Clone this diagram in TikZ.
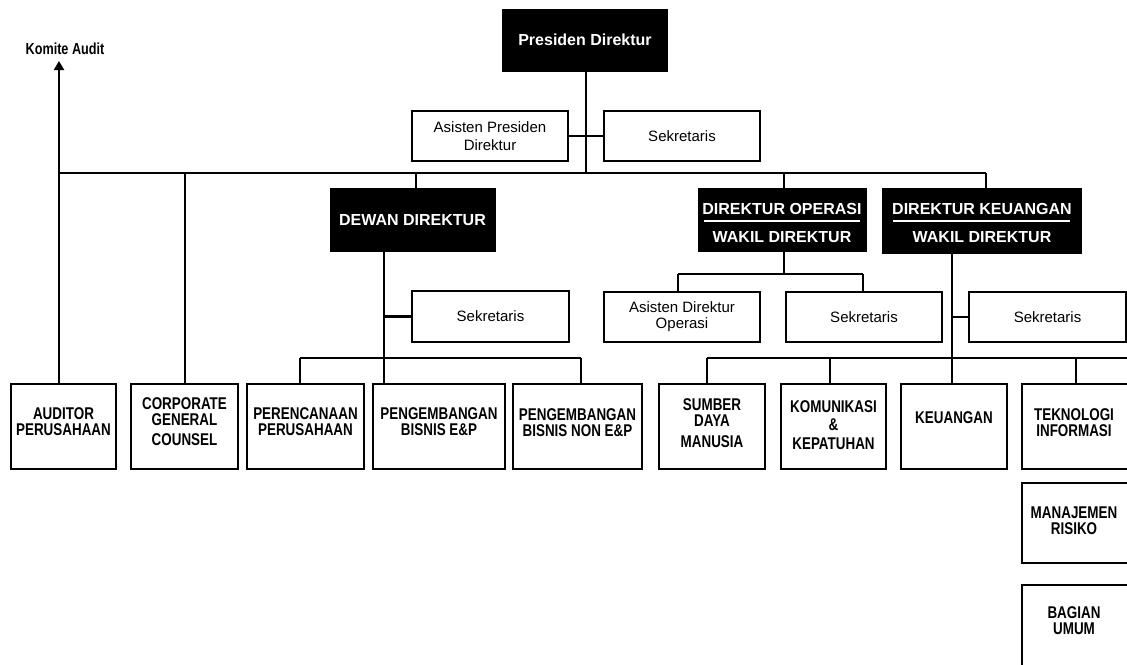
\documentclass[tikz,border=0pt]{standalone}
\usepackage{fontspec}
\setmainfont{Liberation Sans}
\newfontfamily\narrowf[FakeStretch=0.79]{Liberation Sans}
\usetikzlibrary{arrows.meta}
\tikzset{
  blackbox/.style={fill=black,draw=black,inner sep=0pt},
  wtext/.style={text=white,font=\bfseries\fontsize{16}{18}\selectfont,inner sep=0pt},
  secbox/.style={draw=black,line width=2pt,inner sep=0pt,align=center,font=\fontsize{15}{18}\selectfont},
  unitbox/.style={draw=black,line width=2.6pt,inner sep=0pt,minimum height=85pt},
  utext/.style={font=\narrowf\bfseries\fontsize{17}{16}\selectfont,align=center,inner sep=0pt},
  conn/.style={line width=2.2pt,draw=black},
  wrule/.style={draw=white,line width=2pt}
}
\begin{document}
\begin{tikzpicture}[x=1pt,y=-1pt]
\useasboundingbox (0,0) rectangle (1127,664);
% top
\node[blackbox,minimum width=165pt,minimum height=62pt] (pd) at (585,40) {};
\node[wtext] (pdt) at (585,40) {Presiden Direktur};
\node[secbox,minimum width=156pt,minimum height=50pt] (apd) at (490,136) {Asisten Presiden\\Direktur};
\node[secbox,minimum width=156pt,minimum height=50pt] (sek1) at (682,136) {Sekretaris};
% directors
\node[blackbox,minimum width=165pt,minimum height=63pt] (dewan) at (412.5,219.5) {};
\node[wtext] (dewant) at (412.5,220) {DEWAN DIREKTUR};
\node[blackbox,minimum width=168pt,minimum height=63pt] (dop) at (782,219.5) {};
\node[wtext] (dop1) at (782,209) {DIREKTUR OPERASI};
\node[wtext] (dop2) at (782,237) {WAKIL DIREKTUR};
\draw[wrule] (704,221) -- (860,221);
\node[blackbox,minimum width=199pt,minimum height=65pt] (dkeu) at (981.5,220.5) {};
\node[wtext] (dkeu1) at (982,209) {DIREKTUR KEUANGAN};
\node[wtext] (dkeu2) at (982,237) {WAKIL DIREKTUR};
\draw[wrule] (893,221) -- (1070,221);
% secretaries
\node[secbox,minimum width=157pt,minimum height=51pt] (sek2) at (490.5,316.5) {Sekretaris};
\node[secbox,minimum width=156pt,minimum height=50pt,font=\fontsize{15}{16}\selectfont] (ado) at (682,317) {Asisten Direktur\\Operasi};
\node[secbox,minimum width=156pt,minimum height=50pt] (sek3) at (864,317) {Sekretaris};
\node[secbox,minimum width=157pt,minimum height=50pt] (sek4) at (1047.5,317) {Sekretaris};
% units
\node[unitbox,minimum width=105pt] (aud) at (63.5,426.5) {};
\node[utext] (audt) at (63.5,422) {AUDITOR\\PERUSAHAAN};
\node[unitbox,minimum width=107pt] (cgc) at (184.5,426.5) {};
\node[utext] (cgct) at (184.5,421.5) {CORPORATE\\GENERAL\\[4pt]COUNSEL};
\node[unitbox,minimum width=117pt] (per) at (305.5,426.5) {};
\node[utext] (pert) at (305.5,422) {PERENCANAAN\\PERUSAHAAN};
\node[unitbox,minimum width=132pt] (pe) at (439,426.5) {};
\node[utext] (pet) at (439,422) {PENGEMBANGAN\\BISNIS E\&P};
\node[unitbox,minimum width=129pt] (pne) at (577.5,426.5) {};
\node[utext] (pnet) at (577.5,422.5) {PENGEMBANGAN\\BISNIS NON E\&P};
\node[unitbox,minimum width=106pt] (sdm) at (712,426.5) {};
\node[utext] (sdmt) at (712,423.5) {SUMBER\\DAYA\\[5pt]MANUSIA};
\node[unitbox,minimum width=105pt] (kom) at (833.5,426.5) {};
\node[utext] (komt) at (833.5,425) {KOMUNIKASI\\[2.5pt]\&\\[3pt]KEPATUHAN};
\node[unitbox,minimum width=106pt] (keu) at (954,426.5) {};
\node[utext] (keut) at (954,418) {KEUANGAN};
\node[unitbox,minimum width=110pt] (tek) at (1077,426.5) {};
\node[utext] (tekt) at (1074,423) {TEKNOLOGI\\INFORMASI};
\node[unitbox,minimum width=110pt,minimum height=80pt] (mr) at (1077,523) {};
\node[utext] (mrt) at (1074,520.5) {MANAJEMEN\\RISIKO};
\node[unitbox,minimum width=110pt,minimum height=90pt] (bu) at (1077,630) {};
\node[utext] (but) at (1074,621) {BAGIAN\\UMUM};
% komite
\node[font=\narrowf\bfseries\fontsize{16}{16}\selectfont,inner sep=0pt] (komite) at (65,49) {Komite Audit};
% coordinates
\coordinate (ka) at (59,61);
\coordinate (busL) at (59,173);
\coordinate (busR) at (986,173);
\coordinate (dv) at (384,358);
\coordinate (b1) at (300,358);
\coordinate (b3) at (581,358);
\coordinate (ov) at (784,274);
\coordinate (oL) at (678,274);
\coordinate (oR) at (863,274);
\coordinate (kv) at (952,358);
\coordinate (k1) at (707,358);
\coordinate (k2) at (830,358);
\coordinate (k4) at (1076,358);
\coordinate (kR) at (1135,358);
% connectors
\draw[conn] (pd.south -| 586,0) -- (586,173);
\draw[conn] (apd.east) -- (sek1.west);
\draw[conn] (busL) -- (busR);
\draw[conn,-{Triangle[width=10pt,length=9pt]}] (aud.north -| ka) -- (ka);
\draw[conn] (cgc.north -| 185,0) -- (185,173);
\draw[conn] (dewan.north -| 416,0) -- (416,173);
\draw[conn] (dop.north -| ov) -- (ov |- busL);
\draw[conn] (dkeu.north -| busR) -- (busR);
% dewan
\draw[conn] (dewan.south -| dv) -- (dv) -- (pe.north -| dv);
\draw[conn] (sek2.west) -- (sek2.west -| dv);
\draw[conn] (b1) -- (b3);
\draw[conn] (b1) -- (per.north -| b1);
\draw[conn] (b3) -- (pne.north -| b3);
% operasi
\draw[conn] (dop.south -| ov) -- (ov);
\draw[conn] (oL) -- (oR);
\draw[conn] (oL) -- (ado.north -| oL);
\draw[conn] (oR) -- (sek3.north -| oR);
% keuangan
\draw[conn] (dkeu.south -| kv) -- (kv) -- (keu.north -| kv);
\draw[conn] (sek4.west) -- (sek4.west -| kv);
\draw[conn] (k1) -- (kR);
\draw[conn] (k1) -- (sdm.north -| k1);
\draw[conn] (k2) -- (kom.north -| k2);
\draw[conn] (k4) -- (tek.north -| k4);
\end{tikzpicture}
\end{document}
